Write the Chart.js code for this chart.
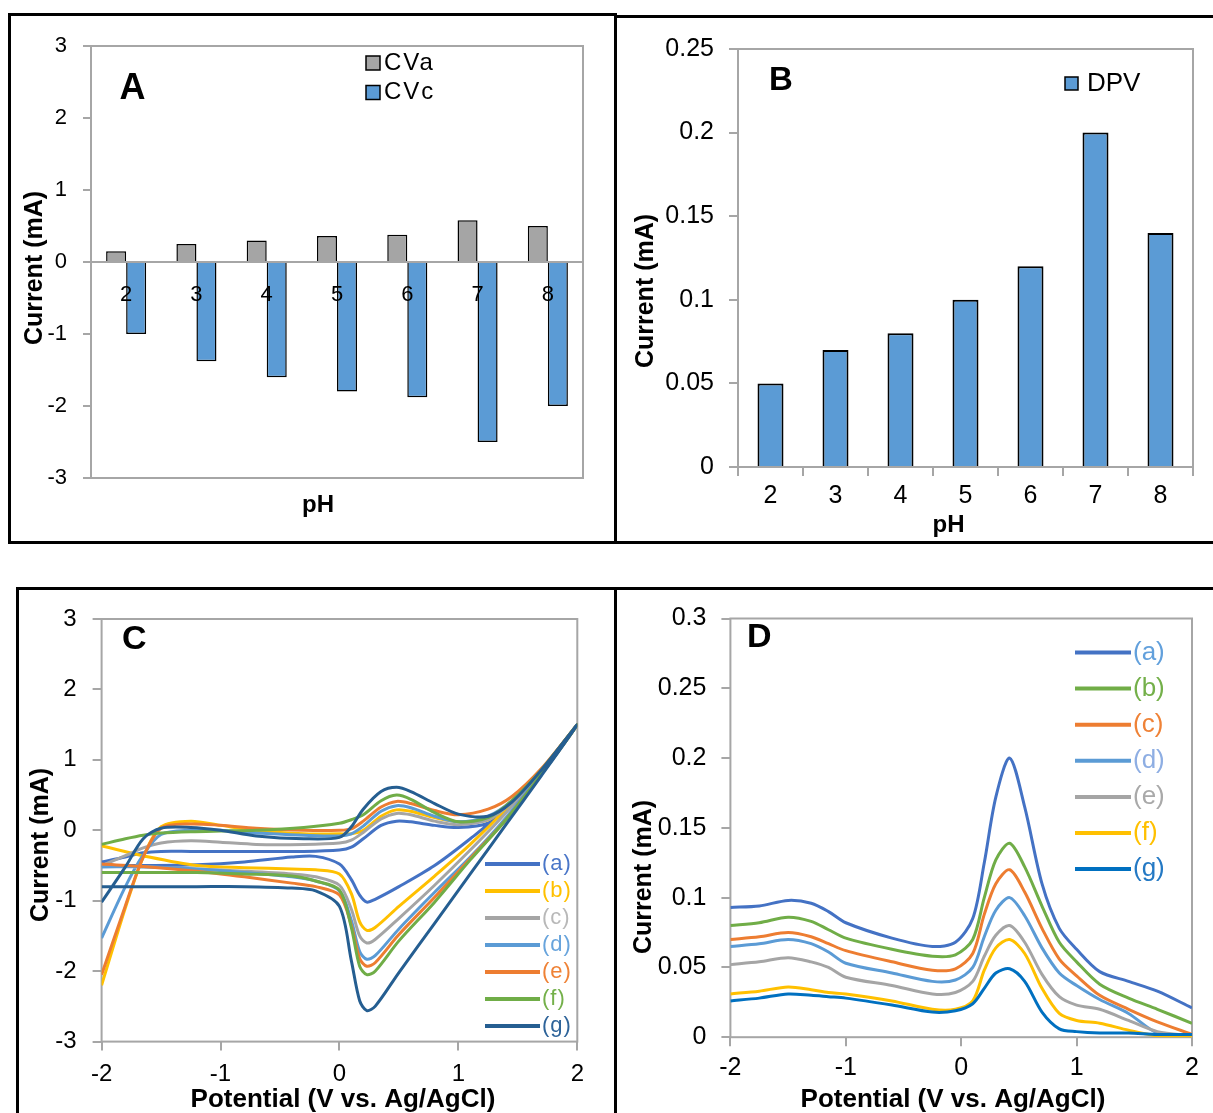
<!DOCTYPE html>
<html>
<head>
<meta charset="utf-8">
<title>pH optimisation - CV and DPV</title>
<script src="https://cdn.jsdelivr.net/npm/chart.js@4.4.1/dist/chart.umd.min.js"></script>
<style>
  body { margin: 0; background: #fff; }
  #figure { position: relative; width: 1213px; height: 1113px; overflow: hidden; background: #fff; }
  .frame { position: absolute; border: 3px solid #000; box-sizing: border-box; }
  canvas { position: absolute; }
</style>
</head>
<body>
<div id="figure">
  <div class="frame" style="left:8px;top:13px;width:609px;height:531px"></div>
  <div class="frame" style="left:614px;top:15px;width:605px;height:529px"></div>
  <div class="frame" style="left:16px;top:587px;width:601px;height:540px"></div>
  <div class="frame" style="left:614px;top:587px;width:605px;height:540px"></div>

  <canvas id="chartA" width="604" height="526" style="left:10px;top:15px"></canvas>
  <canvas id="chartB" width="594" height="524" style="left:619px;top:17px"></canvas>
  <canvas id="chartC" width="597" height="522" style="left:18px;top:591px"></canvas>
  <canvas id="chartD" width="594" height="522" style="left:619px;top:591px"></canvas>
</div>

<script>
// ---- data ----
const phLabels = ['2', '3', '4', '5', '6', '7', '8'];
const cvAnodic = [0.15, 0.25, 0.3, 0.36, 0.38, 0.58, 0.5];
const cvCathodic = [-1.0, -1.38, -1.6, -1.8, -1.88, -2.5, -2.0];
const dpvPeak = [0.05, 0.07, 0.08, 0.1, 0.12, 0.2, 0.14];

const curveLabels = ['(a)', '(b)', '(c)', '(d)', '(e)', '(f)', '(g)'];

// CV loop: sweep from -2 V up to +2 V, then back down to -2 V
const cvPotential = [
  -2, -1.6, -1.2, -0.8, -0.4, -0.2, 0, 0.1, 0.17, 0.23, 0.3, 0.5, 0.8, 1.1, 1.4, 1.7, 2,
  1.7, 1.45, 1.25, 1, 0.8, 0.6, 0.48, 0.35, 0.2, 0.1, 0, -0.3, -0.7, -1, -1.25, -1.5, -1.65, -1.8, -2
];
const cvA = [-0.5, -0.5, -0.49, -0.45, -0.38, -0.37, -0.48, -0.7, -0.92, -1.02, -0.98, -0.8, -0.5, -0.12, 0.3, 0.85, 1.5,
  0.82, 0.35, 0.1, 0.04, 0.07, 0.12, 0.13, 0.07, -0.12, -0.24, -0.28, -0.3, -0.3, -0.3, -0.3, -0.3, -0.32, -0.38, -0.45];
const cvB = [-0.22, -0.38, -0.5, -0.53, -0.55, -0.56, -0.62, -0.9, -1.3, -1.42, -1.38, -1.08, -0.65, -0.2, 0.3, 0.85, 1.5,
  0.86, 0.4, 0.15, 0.12, 0.18, 0.27, 0.29, 0.2, 0, -0.05, -0.05, -0.05, 0, 0.07, 0.13, 0.05, -0.38, -1.1, -2.2];
const cvC = [-0.5, -0.52, -0.55, -0.58, -0.62, -0.66, -0.78, -1.12, -1.5, -1.6, -1.55, -1.25, -0.78, -0.28, 0.25, 0.85, 1.5,
  0.86, 0.4, 0.15, 0.08, 0.13, 0.22, 0.24, 0.16, -0.03, -0.14, -0.18, -0.2, -0.2, -0.17, -0.15, -0.18, -0.25, -0.36, -0.5];
const cvD = [-0.52, -0.52, -0.55, -0.6, -0.66, -0.72, -0.86, -1.28, -1.72, -1.83, -1.78, -1.4, -0.88, -0.38, 0.18, 0.82, 1.5,
  0.86, 0.42, 0.2, 0.12, 0.2, 0.32, 0.35, 0.27, 0.06, -0.05, -0.08, -0.07, -0.04, 0, 0, -0.06, -0.35, -0.8, -1.53];
const cvE = [-0.48, -0.52, -0.58, -0.66, -0.75, -0.8, -0.92, -1.35, -1.82, -1.93, -1.88, -1.48, -0.95, -0.4, 0.15, 0.8, 1.5,
  0.88, 0.48, 0.3, 0.22, 0.28, 0.38, 0.41, 0.33, 0.13, 0.02, 0, 0, 0.03, 0.07, 0.09, 0.03, -0.38, -1.07, -2.05];
const cvF = [-0.6, -0.6, -0.6, -0.62, -0.65, -0.72, -0.85, -1.38, -1.93, -2.05, -2, -1.57, -1.02, -0.42, 0.15, 0.8, 1.5,
  0.86, 0.42, 0.18, 0.12, 0.25, 0.44, 0.5, 0.42, 0.22, 0.15, 0.1, 0.04, 0, -0.01, -0.02, -0.04, -0.07, -0.12, -0.2];
const cvG = [-0.8, -0.8, -0.8, -0.8, -0.82, -0.86, -1.08, -1.85, -2.42, -2.56, -2.5, -2.02, -1.32, -0.62, 0.08, 0.78, 1.5,
  0.86, 0.4, 0.2, 0.23, 0.38, 0.55, 0.61, 0.55, 0.3, 0.05, -0.1, -0.12, -0.08, 0, 0.04, 0.03, -0.12, -0.52, -1.02];

const dpvPotential = [-2, -1.75, -1.5, -1.3, -1.15, -1, -0.6, -0.25, -0.05, 0.1, 0.2, 0.3, 0.42, 0.55, 0.7, 0.85, 1, 1.2, 1.45, 1.7, 2];
const dpvA = [0.093, 0.094, 0.098, 0.096, 0.09, 0.082, 0.071, 0.065, 0.068, 0.085, 0.125, 0.172, 0.2, 0.165, 0.11, 0.078, 0.063, 0.047, 0.04, 0.033, 0.021];
const dpvB = [0.08, 0.082, 0.086, 0.083, 0.077, 0.071, 0.063, 0.058, 0.059, 0.07, 0.1, 0.127, 0.139, 0.122, 0.094, 0.068, 0.054, 0.038, 0.028, 0.02, 0.01];
const dpvC = [0.07, 0.072, 0.075, 0.072, 0.067, 0.062, 0.054, 0.048, 0.049, 0.06, 0.088, 0.11, 0.12, 0.104, 0.078, 0.056, 0.044, 0.03, 0.02, 0.011, 0.002];
const dpvD = [0.065, 0.067, 0.07, 0.067, 0.061, 0.053, 0.046, 0.04, 0.041, 0.05, 0.072, 0.091, 0.1, 0.087, 0.064, 0.046, 0.037, 0.027, 0.017, 0.003, 0.001];
const dpvE = [0.052, 0.054, 0.057, 0.054, 0.05, 0.043, 0.037, 0.031, 0.032, 0.04, 0.058, 0.073, 0.08, 0.068, 0.045, 0.029, 0.023, 0.02, 0.012, 0.004, 0.001];
const dpvF = [0.031, 0.033, 0.036, 0.034, 0.032, 0.031, 0.026, 0.02, 0.02, 0.026, 0.048, 0.064, 0.07, 0.06, 0.035, 0.017, 0.012, 0.01, 0.005, 0.001, 0];
const dpvG = [0.026, 0.028, 0.031, 0.03, 0.029, 0.028, 0.023, 0.018, 0.019, 0.024, 0.035, 0.046, 0.049, 0.04, 0.018, 0.006, 0.004, 0.003, 0.003, 0.002, 0.002];

// ---- styling ----
const AXIS_GRAY = '#a6a6a6';
const cvColors = ['#4472c4', '#ffc000', '#a5a5a5', '#5b9bd5', '#ed7d31', '#70ad47', '#255e91'];
const cvTextColors = ['#4a76c8', '#ffc000', '#b8b8b8', '#68a4dc', '#ef8236', '#74b04a', '#2d6399'];
const dpvColors = ['#4472c4', '#70ad47', '#ed7d31', '#5b9bd5', '#a5a5a5', '#ffc000', '#0070c0'];
const dpvTextColors = ['#62a0dc', '#74b04a', '#ef8236', '#8eaee3', '#a9a9a9', '#ffc000', '#2479c4'];

Chart.defaults.font.family = "'Liberation Sans', Arial, sans-serif";
Chart.defaults.color = '#000';
Chart.defaults.animation = false;

// gray box round the plot area
Chart.register({
  id: 'plotFrame',
  beforeDatasetsDraw(chart) {
    const { ctx, chartArea: a } = chart;
    ctx.save();
    ctx.strokeStyle = AXIS_GRAY;
    ctx.lineWidth = 2;
    ctx.strokeRect(a.left, a.top, a.right - a.left, a.bottom - a.top);
    ctx.restore();
  }
});

// panel letter and axis captions
function captions(items) {
  return {
    id: 'captions',
    afterDraw(chart) {
      const ctx = chart.ctx;
      items.forEach(it => {
        ctx.save();
        ctx.translate(it.x, it.y);
        if (it.rotate) ctx.rotate(it.rotate);
        ctx.font = it.font;
        ctx.fillStyle = '#000';
        ctx.textAlign = 'center';
        ctx.textBaseline = 'middle';
        ctx.fillText(it.text, 0, 0);
        ctx.restore();
      });
    }
  };
}

// legend drawn inside the plot, from the datasets
function panelLegend(cfg) {
  return {
    id: 'panelLegend',
    afterDraw(chart) {
      const ctx = chart.ctx;
      ctx.save();
      ctx.font = cfg.font;
      ctx.letterSpacing = cfg.letterSpacing || '0px';
      ctx.textBaseline = 'middle';
      chart.data.datasets.forEach((ds, i) => {
        const y = cfg.y + i * cfg.step;
        if (cfg.marker === 'box') {
          ctx.fillStyle = ds.backgroundColor;
          ctx.fillRect(cfg.x, y - cfg.size / 2, cfg.size, cfg.size);
          ctx.lineWidth = 1.5;
          ctx.strokeStyle = '#000';
          ctx.strokeRect(cfg.x, y - cfg.size / 2, cfg.size, cfg.size);
          ctx.fillStyle = '#000';
        } else {
          ctx.strokeStyle = ds.borderColor;
          ctx.lineWidth = 4;
          ctx.beginPath();
          ctx.moveTo(cfg.x, y);
          ctx.lineTo(cfg.x + cfg.size, y);
          ctx.stroke();
          ctx.fillStyle = cfg.textColors[i];
        }
        ctx.fillText(ds.label, cfg.x + cfg.size + cfg.gap, y);
      });
      ctx.restore();
    }
  };
}

const fixedWidth = w => scale => { scale.width = w; };
const fixedHeight = h => scale => { scale.height = h; };
const tickMarks = len => ({ drawOnChartArea: false, drawTicks: true, tickLength: len, color: AXIS_GRAY, lineWidth: 2 });
const decimals = v => +v.toFixed(2);
const VERTICAL = -Math.PI / 2;

function curveDatasets(labels, series, xs, colors) {
  return series.map((ys, i) => ({
    label: labels[i],
    data: ys.map((y, j) => ({ x: xs[j], y })),
    borderColor: colors[i],
    backgroundColor: colors[i],
    borderWidth: 3,
    pointRadius: 0,
    showLine: true,
    tension: 0.3,
    order: series.length - i
  }));
}

// ---- A: CV peak currents vs pH ----
new Chart(document.getElementById('chartA'), {
  type: 'bar',
  data: {
    labels: phLabels,
    datasets: [
      { label: 'CVa', data: cvAnodic, backgroundColor: '#a5a5a5', borderColor: '#000', borderWidth: 1.5 },
      { label: 'CVc', data: cvCathodic, backgroundColor: '#5b9bd5', borderColor: '#000', borderWidth: 1.5 }
    ]
  },
  options: {
    responsive: false,
    layout: { padding: { left: 0, top: 31, right: 31, bottom: 63 } },
    datasets: { bar: { categoryPercentage: 0.57, barPercentage: 1 } },
    plugins: { legend: { display: false }, tooltip: { enabled: false } },
    scales: {
      x: {
        position: { y: 0 },
        grid: { display: false, drawTicks: false },
        border: { display: true, color: AXIS_GRAY, width: 2 },
        // category numbers sit on top of the bars
        ticks: { z: 1, font: { size: 22, lineHeight: 1 }, padding: 21.7 },
        afterFit: fixedHeight(0)
      },
      y: {
        min: -3, max: 3,
        ticks: { stepSize: 1, font: { size: 22, lineHeight: 1 }, padding: 16 },
        grid: tickMarks(8),
        border: { display: false },
        afterFit: fixedWidth(81)
      }
    }
  },
  plugins: [
    captions([
      { text: 'A', x: 122.4, y: 74.5, font: 'bold 36px "Liberation Sans", Arial' },
      { text: 'Current (mA)', x: 25.6, y: 253, rotate: VERTICAL, font: 'bold 25px "Liberation Sans", Arial' },
      { text: 'pH', x: 308, y: 490, font: 'bold 24px "Liberation Sans", Arial' }
    ]),
    panelLegend({ marker: 'box', x: 356, y: 48, step: 29.5, size: 14, gap: 4, font: '24px "Liberation Sans", Arial', letterSpacing: '2px' })
  ]
});

// ---- B: DPV peak current vs pH ----
new Chart(document.getElementById('chartB'), {
  type: 'bar',
  data: {
    labels: phLabels,
    datasets: [
      { label: 'DPV', data: dpvPeak, backgroundColor: '#5b9bd5', borderColor: '#000', borderWidth: 2 }
    ]
  },
  options: {
    responsive: false,
    layout: { padding: { left: 0, top: 32, right: 20, bottom: 0 } },
    datasets: { bar: { categoryPercentage: 0.4, barPercentage: 1 } },
    plugins: { legend: { display: false }, tooltip: { enabled: false } },
    scales: {
      x: {
        grid: { ...tickMarks(9), offset: true },
        border: { display: false },
        ticks: { font: { size: 25, lineHeight: 1 }, padding: 8 },
        afterFit: fixedHeight(74)
      },
      y: {
        min: 0, max: 0.25,
        ticks: { stepSize: 0.05, callback: decimals, font: { size: 25, lineHeight: 1 }, padding: 15 },
        grid: tickMarks(9),
        border: { display: false },
        afterFit: fixedWidth(119)
      }
    }
  },
  plugins: [
    captions([
      { text: 'B', x: 162, y: 63.7, font: 'bold 33px "Liberation Sans", Arial' },
      { text: 'Current (mA)', x: 27.5, y: 274, rotate: VERTICAL, font: 'bold 25px "Liberation Sans", Arial' },
      { text: 'pH', x: 329.5, y: 508, font: 'bold 24px "Liberation Sans", Arial' }
    ]),
    panelLegend({ marker: 'box', x: 446, y: 66.5, step: 30, size: 13, gap: 9, font: '26px "Liberation Sans", Arial' })
  ]
});

// ---- C: cyclic voltammograms ----
new Chart(document.getElementById('chartC'), {
  type: 'scatter',
  data: {
    datasets: curveDatasets(curveLabels, [cvA, cvB, cvC, cvD, cvE, cvF, cvG], cvPotential, cvColors)
  },
  options: {
    responsive: false,
    layout: { padding: { left: 0, top: 12.1, right: 37.7, bottom: 0 } },
    plugins: { legend: { display: false }, tooltip: { enabled: false } },
    scales: {
      x: {
        type: 'linear', min: -2, max: 2,
        ticks: { stepSize: 1, font: { size: 24, lineHeight: 1 }, padding: 12 },
        grid: tickMarks(9),
        border: { display: false },
        afterFit: fixedHeight(71.4)
      },
      y: {
        min: -3, max: 3,
        ticks: { stepSize: 1, font: { size: 24, lineHeight: 1 }, padding: 16 },
        grid: tickMarks(9),
        border: { display: false },
        afterFit: fixedWidth(83.6)
      }
    }
  },
  plugins: [
    captions([
      { text: 'C', x: 116.4, y: 48.5, font: 'bold 34px "Liberation Sans", Arial' },
      { text: 'Current (mA)', x: 23.5, y: 254, rotate: VERTICAL, font: 'bold 25px "Liberation Sans", Arial' },
      { text: 'Potential (V vs. Ag/AgCl)', x: 325, y: 509, font: 'bold 26px "Liberation Sans", Arial' }
    ]),
    panelLegend({ marker: 'line', x: 467, y: 273, step: 27, size: 55, gap: 2, font: '22px "Liberation Sans", Arial', letterSpacing: '1px', textColors: cvTextColors })
  ]
});

// ---- D: differential pulse voltammograms ----
new Chart(document.getElementById('chartD'), {
  type: 'scatter',
  data: {
    datasets: curveDatasets(curveLabels, [dpvA, dpvB, dpvC, dpvD, dpvE, dpvF, dpvG], dpvPotential, dpvColors)
  },
  options: {
    responsive: false,
    layout: { padding: { left: 0, top: 17.9, right: 21, bottom: 0 } },
    plugins: { legend: { display: false }, tooltip: { enabled: false } },
    scales: {
      x: {
        type: 'linear', min: -2, max: 2,
        ticks: { stepSize: 1, font: { size: 25, lineHeight: 1 }, padding: 9 },
        grid: tickMarks(9),
        border: { display: false },
        afterFit: fixedHeight(75.8)
      },
      y: {
        min: 0, max: 0.3,
        ticks: { stepSize: 0.05, callback: decimals, font: { size: 25, lineHeight: 1 }, padding: 15 },
        grid: tickMarks(9),
        border: { display: false },
        afterFit: fixedWidth(111.4)
      }
    }
  },
  plugins: [
    captions([
      { text: 'D', x: 140.2, y: 46.8, font: 'bold 34px "Liberation Sans", Arial' },
      { text: 'Current (mA)', x: 25.6, y: 286, rotate: VERTICAL, font: 'bold 25px "Liberation Sans", Arial' },
      { text: 'Potential (V vs. Ag/AgCl)', x: 334, y: 509, font: 'bold 26px "Liberation Sans", Arial' }
    ]),
    panelLegend({ marker: 'line', x: 456, y: 61.5, step: 36.1, size: 56, gap: 2, font: '26px "Liberation Sans", Arial', textColors: dpvTextColors })
  ]
});
</script>
</body>
</html>
